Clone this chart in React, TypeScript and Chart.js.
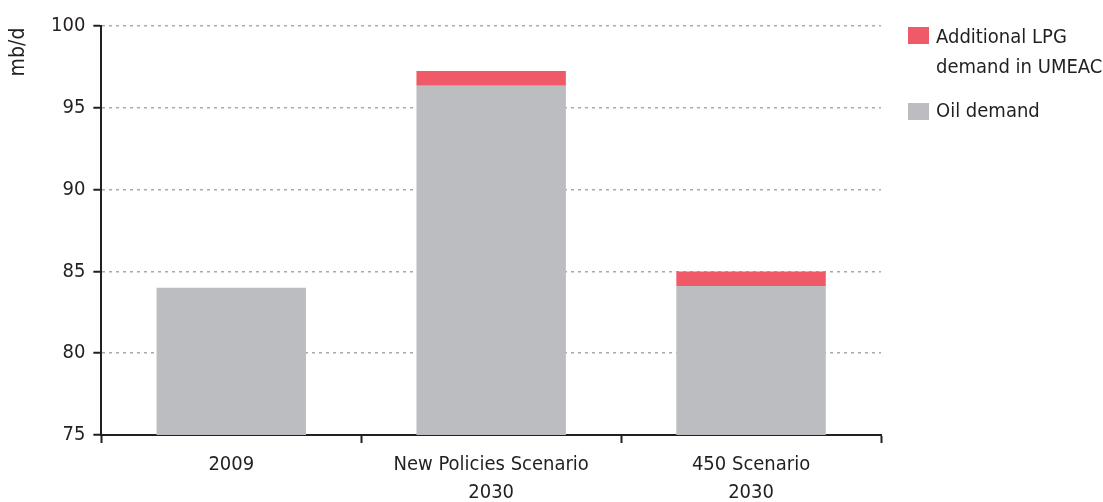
import React, { useEffect, useRef } from "react";
import { Chart, registerables } from "chart.js";

Chart.register(...registerables);

const categories: string[][] = [["2009"], ["New Policies Scenario", "2030"], ["450 Scenario", "2030"]];
const oilDemand: number[] = [84.0, 96.35, 84.1];
const additionalLPG: (number | null)[] = [null, 0.9, 0.9];
const yMin = 75;
const yMax = 100;
const yStep = 5;
const yTitle = "mb/d";
const legendLPG = ["Additional LPG", "demand in UMEAC"];
const legendOil = "Oil demand";

const FONT = "'DejaVu Sans Condensed', 'DejaVu Sans', sans-serif";
const RED = "#F05A68";
const GREY = "#BCBDC1";
const TEXT = "#231F20";
const FS = 20;

const titlePlugin = {
  id: "yTitleTop",
  afterDraw(chart: any) {
    const ctx = chart.ctx;
    ctx.save();
    ctx.translate(19, 52);
    ctx.rotate(-Math.PI / 2);
    ctx.font = `21px ${FONT}`;
    ctx.fillStyle = TEXT;
    ctx.textAlign = "center";
    ctx.textBaseline = "middle";
    ctx.fillText(yTitle, 0, 0);
    ctx.restore();
  },
};

export default function App() {
  const ref = useRef<HTMLCanvasElement | null>(null);

  useEffect(() => {
    if (!ref.current) return;
    const chart = new Chart(ref.current, {
      type: "bar",
      data: {
        labels: categories,
        datasets: [
          {
            label: legendOil,
            data: oilDemand,
            backgroundColor: GREY,
            borderWidth: 0,
            categoryPercentage: 1,
            barPercentage: 0.575,
          },
          {
            label: legendLPG.join(" "),
            data: additionalLPG,
            backgroundColor: RED,
            borderWidth: 0,
            categoryPercentage: 1,
            barPercentage: 0.575,
          },
        ],
      },
      options: {
        responsive: false,
        animation: false,
        layout: { padding: { left: 43, right: 222, top: 26, bottom: 0 } },
        plugins: { legend: { display: false }, tooltip: { enabled: false } },
        scales: {
          x: {
            stacked: true,
            offset: true,
            afterFit: (scale: any) => {
              scale.height = 67;
            },
            grid: {
              offset: true,
              drawOnChartArea: false,
              drawTicks: true,
              tickLength: 8,
              tickColor: TEXT,
              tickWidth: 2,
            },
            border: { color: TEXT, width: 2 },
            ticks: { color: TEXT, font: { family: FONT, size: FS, lineHeight: 1.4 }, padding: 8, maxRotation: 0, autoSkip: false },
          },
          y: {
            stacked: true,
            min: yMin,
            max: yMax,
            ticks: { stepSize: yStep, color: TEXT, font: { family: FONT, size: FS }, padding: 8 },
            grid: {
              color: "#A7A9AC",
              lineWidth: 1.5,
              tickLength: 8,
              tickColor: TEXT,
              tickWidth: 2,
              tickBorderDash: [],
            },
            border: { color: TEXT, width: 2, dash: [3, 4] },
          },
        },
      },
      plugins: [titlePlugin],
    });
    return () => chart.destroy();
  }, []);

  const legText: React.CSSProperties = {
    position: "absolute",
    left: 936,
    fontFamily: FONT,
    fontSize: FS,
    color: TEXT,
    lineHeight: "30px",
    whiteSpace: "nowrap",
  };

  return (
    <div style={{ position: "fixed", left: 0, top: 0, width: 1103, height: 502, background: "#fff" }}>
      <canvas ref={ref} width={1103} height={502} style={{ width: 1103, height: 502, display: "block" }} />
      <div style={{ position: "absolute", left: 908, top: 27, width: 21, height: 17, background: RED }} />
      <div style={{ ...legText, top: 21 }}>
        {legendLPG[0]}
        <br />
        {legendLPG[1]}
      </div>
      <div style={{ position: "absolute", left: 908, top: 103, width: 21, height: 17, background: GREY }} />
      <div style={{ ...legText, top: 95 }}>{legendOil}</div>
    </div>
  );
}
